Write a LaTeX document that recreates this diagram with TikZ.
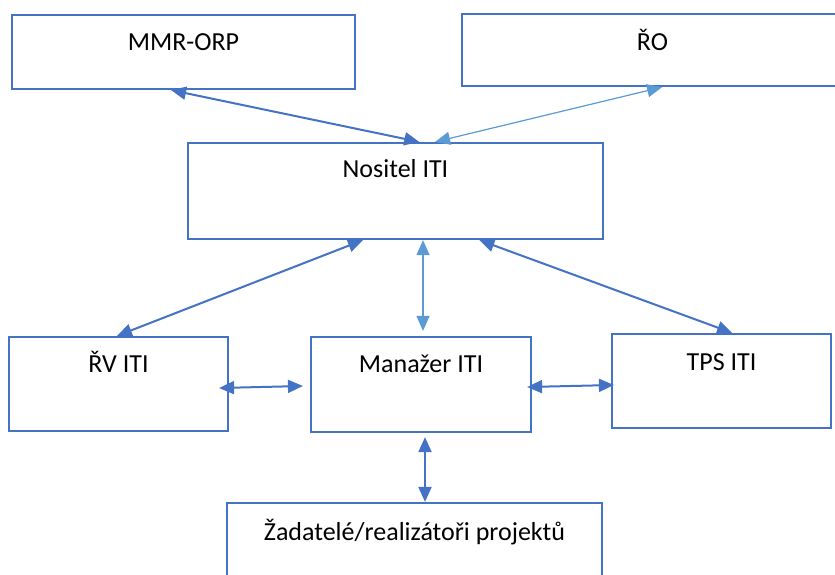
\documentclass[tikz,border=0pt]{standalone}
\usepackage{fontspec}
\setmainfont{Carlito}
\usetikzlibrary{arrows.meta,calc}
\definecolor{boxblue}{HTML}{4472C4}
\definecolor{lightblue}{HTML}{5B9BD5}

\begin{document}
\begin{tikzpicture}[x=1pt,y=-1pt,
  >={Triangle[length=15pt,width=13pt]},
  font=\fontsize{26}{30}\selectfont,
  box/.style={draw=boxblue,line width=2.2pt,inner sep=0pt},
  lbl/.style={anchor=base,inner sep=0pt},
  lnk/.style={<->,draw=boxblue,fill=boxblue,line width=2pt},
  thinlnk/.style={<->,draw=lightblue,fill=lightblue,line width=1.2pt}]
  \clip (0,0) rectangle (835,574);
  % boxes
  \node[box,minimum width=343pt,minimum height=74pt] (mmr) at (183.5,52) {};
  \node[box,minimum width=381pt,minimum height=72pt] (ro) at (652.5,50) {};
  \node[box,minimum width=415pt,minimum height=96pt] (nos) at (395.5,191) {};
  \node[box,minimum width=219pt,minimum height=94pt] (rv) at (118.5,384) {};
  \node[box,minimum width=220pt,minimum height=95pt] (man) at (421,384.5) {};
  \node[box,minimum width=219pt,minimum height=94pt] (tps) at (721.5,381) {};
  \node[box,minimum width=375pt,minimum height=95pt] (zad) at (414.5,550.5) {};
  % texts
  \node[lbl] (mmr-t) at ([yshift=-37pt]mmr.north) {MMR-ORP};
  \node[lbl] (ro-t) at ([yshift=-38pt]ro.north) {ŘO};
  \node[lbl] (nos-t) at ([yshift=-36pt]nos.north) {Nositel ITI};
  \node[lbl] (rv-t) at ([yshift=-37pt]rv.north) {ŘV ITI};
  \node[lbl] (man-t) at ([yshift=-37pt]man.north) {Manažer ITI};
  \node[lbl] (tps-t) at ([yshift=-38pt]tps.north) {TPS ITI};
  \node[lbl] (zad-t) at ([yshift=-39pt]zad.north) {Žadatelé/realizátoři projektů};
  % links
  \draw[lnk] ($(mmr.south west)!0.464!(mmr.south east)$) -- ($(nos.north west)!0.557!(nos.north east)$);
  \draw[thinlnk] ($(ro.south west)!0.525!(ro.south east)$) -- ($(nos.north west)!0.595!(nos.north east)$);
  \draw[lnk] ($(nos.south west)!0.422!(nos.south east)$) -- ($(rv.north west)!0.493!(rv.north east)$);
  \draw[thinlnk] ([xshift=2pt]man.north |- nos.south) -- ([xshift=2pt,yshift=5pt]man.north);
  \draw[lnk] ($(nos.south west)!0.701!(nos.south east)$) -- ($(tps.north west)!0.548!(tps.north east)$);
  \draw[lnk] ([xshift=-10pt,yshift=-4pt]rv.east) -- ([xshift=-7pt,yshift=-1.5pt]man.west);
  \draw[lnk] ([xshift=-5pt,yshift=-2.5pt]man.east) -- ([xshift=3pt,yshift=-4pt]tps.west);
  \draw[lnk] ([xshift=4pt,yshift=-4pt]man.south) -- ([xshift=4pt]man.south |- zad.north);
\end{tikzpicture}
\end{document}
